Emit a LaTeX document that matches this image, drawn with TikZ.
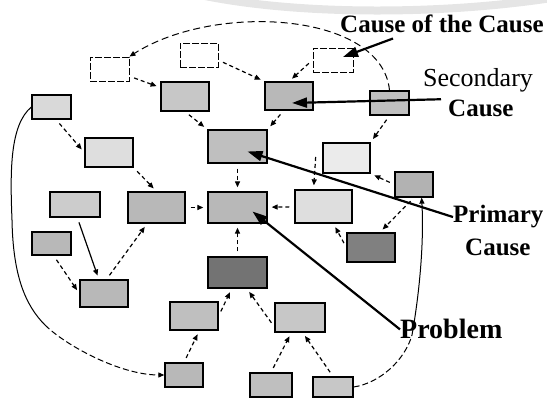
\documentclass[tikz,border=0pt]{standalone}
\usepackage{fontspec}
\setmainfont{Liberation Serif}
\usetikzlibrary{arrows.meta,calc}

\begin{document}
\begin{tikzpicture}[x=1pt,y=-1pt,
  box/.style={draw,line width=1.3pt,inner sep=0pt,fill=black!#1},
  blank/.style={draw,line width=0.9pt,inner sep=0pt,dash pattern=on 7pt off 2pt},
  sz/.style 2 args={minimum width=#1pt,minimum height=#2pt},
  dep/.style={-{Triangle[length=6pt,width=5pt]},line width=1.2pt,
    dash pattern=on 4pt off 3pt,shorten <=5pt,shorten >=4pt},
  pointer/.style={-{Triangle[length=15pt,width=10pt]},line width=2.2pt},
  loopline/.style={line width=1pt},
  lbl/.style={inner sep=0pt,anchor=base west,font=\bfseries\fontsize{#1}{#1}\selectfont}]
\useasboundingbox (0,0) rectangle (547,398);
% faint arc from the scan
\draw[line width=8pt,black!10] (205,-4) .. controls (300,15) and (440,15) .. (552,-2);
% top row, empty boxes
\node[blank,sz={39}{24}] (A) at (109.5,69) {};
\node[blank,sz={38}{24}] (B) at (199,55) {};
\node[blank,sz={40}{24}] (C) at (333,60) {};
% second row
\node[box=15,sz={39}{24}] (D) at (51.5,107) {};
\node[box=22,sz={48}{29}] (E) at (185,96.5) {};
\node[box=28,sz={48}{28}] (S) at (289,96) {};
\node[box=25,sz={39}{24}] (R1) at (389.5,103) {};
% third row
\node[box=13,sz={48}{29}] (F) at (109,152.5) {};
\node[box=25,sz={59}{33}] (P1) at (237.5,146.5) {};
\node[box=8,sz={47}{30}] (R2) at (346.5,158) {};
\node[box=30,sz={38}{25}] (R3) at (414,184.5) {};
% problem row
\node[box=20,sz={50}{25}] (G1) at (75,204.5) {};
\node[box=28,sz={57}{31}] (G2) at (156.5,207.5) {};
\node[box=28,sz={59}{31}] (PB) at (237.5,207.5) {};
\node[box=13,sz={57}{33}] (Q) at (323.5,206.5) {};
% below the problem
\node[box=28,sz={39}{23}] (G3) at (51.5,243.5) {};
\node[box=50,sz={48}{29}] (R4) at (371,247.5) {};
\node[box=28,sz={48}{27}] (G4) at (104,293.5) {};
\node[box=55,sz={59}{31}] (PR) at (237.5,272.5) {};
\node[box=25,sz={48}{28}] (G5) at (194,316) {};
\node[box=22,sz={50}{29}] (G7) at (300,317.5) {};
\node[box=28,sz={38}{24}] (G6) at (184,375) {};
\node[box=25,sz={42}{24}] (G8) at (271,385) {};
\node[box=22,sz={40}{20}] (G9) at (333,387) {};

\draw[dep] (A) -- (E);
\draw[dep] (B.-15) -- (S.north west);
\draw[dep] (C.west) -- (S.north);
\draw[dep] (S.250) -- (P1.north east);
\draw[dep] (E.south) -- (P1.north west);
\draw[dep] (D.-70) -- (F.west);
\draw[dep] (F.south east) -- (G2.north);
\draw[dep] (R1.south) -- (R2.north east);
\draw[dep] (R3.west) -- (R2.south east);
\draw[dep] (R3.south) -- (R4.60);
\draw[dep] (R4.west) -- (Q.-60);
\coordinate (qtop) at (316,152);
\draw[dep] (qtop) -- (Q.120);
\draw[dep] (P1) -- (PB);
\draw[dep] (G2) -- (PB);
\draw[dep] (Q) -- (PB);
\draw[dep] (PR) -- (PB);
\draw[dep] (G5.east) -- (PR.250);
\draw[dep] (G7.200) -- (PR.300);
\draw[dep] (G6.north) -- (G5.-70);
\draw[dep] (G8.north) -- (G7.-120);
\draw[dep] (G9.north) -- (G7.-80);
\draw[dep,solid] (G1.-80) -- (G4.110);
\draw[dep] (G3.-80) -- (G4.west);
\draw[dep] (G4.80) -- (G2.-120);

% feedback loops
\draw[loopline,dash pattern=on 7pt off 4pt,-{Triangle[length=6pt,width=5pt]}]
  (R1.north) .. controls (382,12) and (215,2) .. (A.north east);
\coordinate (lmid) at (45,325);
\draw[loopline] (D.west) .. controls (10,125) and (10,170) .. (12,220)
  .. controls (13,275) and (25,305) .. (lmid);
\draw[loopline,dash pattern=on 6pt off 3pt,-{Triangle[length=6pt,width=5pt]}]
  (lmid) .. controls (65,345) and (120,375) .. (G6.west);
\coordinate (rmid) at (412,335);
\draw[loopline,dash pattern=on 6pt off 3pt] (G9.east) .. controls (380,383) and (405,360) .. (rmid);
\draw[loopline,-{Triangle[length=6pt,width=5pt]}]
  (rmid) .. controls (420,290) and (424,240) .. (R3.-60);

% labels
\node[lbl=25] (lcc) at (340,33) {Cause of the Cause};
\node[lbl=26,font=\fontsize{26}{26}\selectfont] (lsec) at (423,87) {Secondary};
\node[lbl=25] (lsecc) at (448,117) {Cause};
\node[lbl=25] (lprim) at (453,223) {Primary};
\node[lbl=25] (lprimc) at (465,256) {Cause};
\node[lbl=28] (lprob) at (400,339) {Problem};
\draw[pointer] ($(lcc.south west)+(53,5)$) -- ($(C)+(10,-3)$);
\draw[pointer] ($(lsecc.north west)+(-7,-1)$) -- ($(S)+(3,7)$);
\draw[pointer] (lprim.west) -- ($(P1)+(10,5)$);
\draw[pointer] (lprob.west) -- ($(PB)+(15,4)$);
\end{tikzpicture}
\end{document}
